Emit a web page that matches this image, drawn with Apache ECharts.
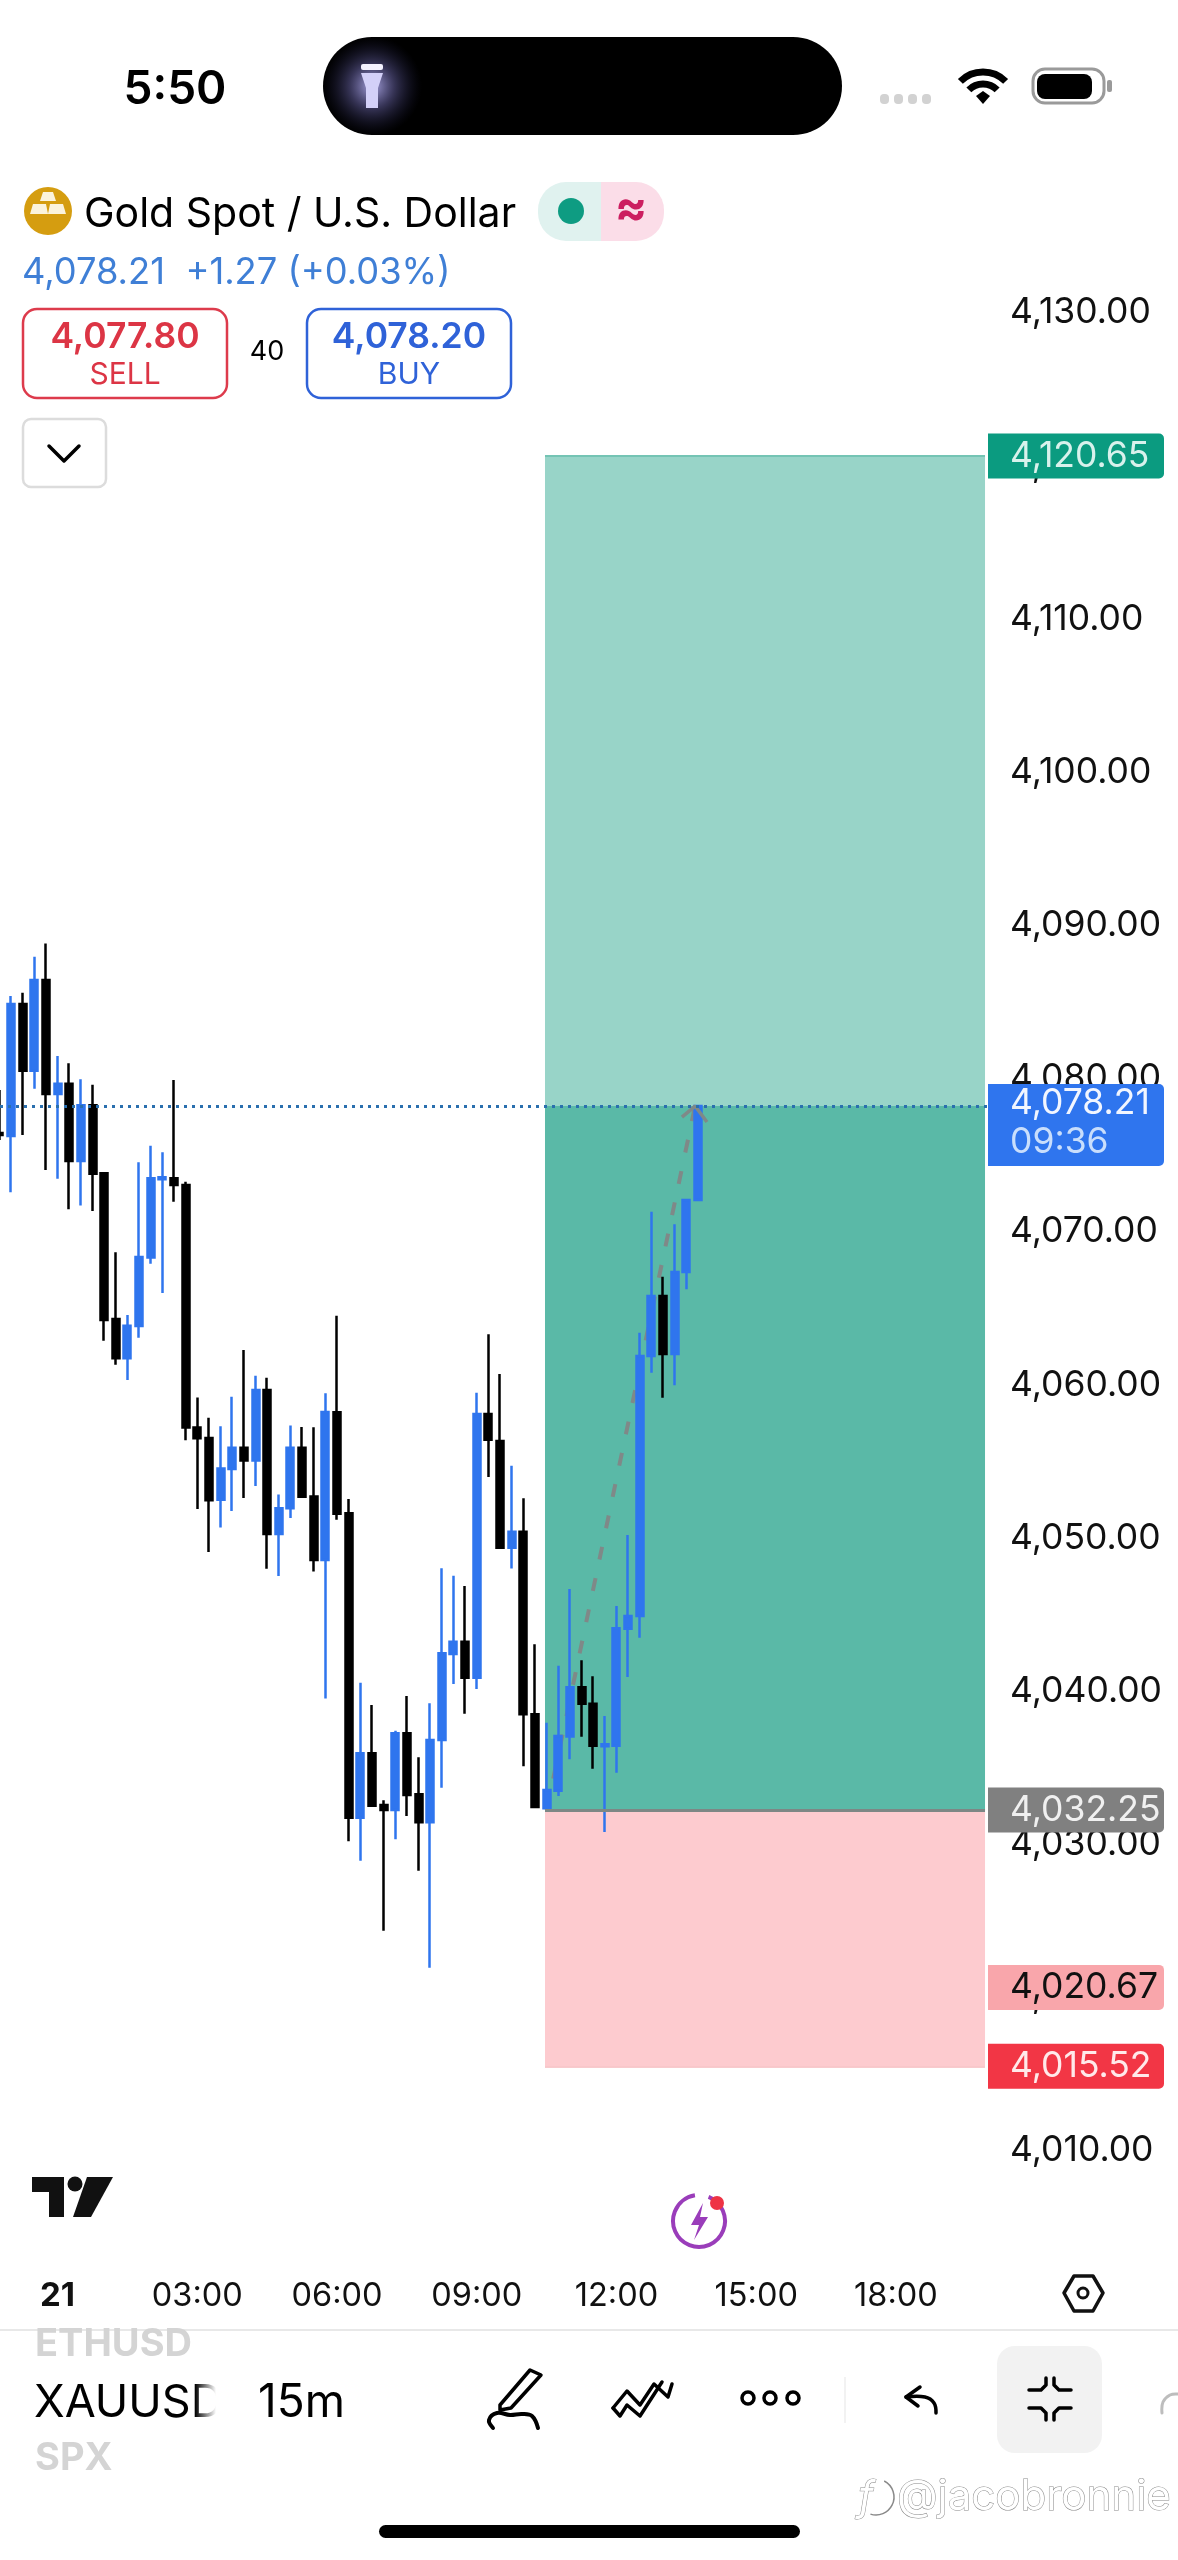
<!DOCTYPE html>
<html>
<head>
<meta charset="utf-8">
<title>XAUUSD 15m</title>
<script src="https://cdn.jsdelivr.net/npm/echarts@6/dist/echarts.min.js"></script>
<style>
html, body { margin: 0; padding: 0; background: #fff; }
#chart { width: 1178px; height: 2560px; }
</style>
</head>
<body>
<div id="chart"></div>
<script>
// candles, oldest first. first one is cut by the left edge
var opens = [4076.45,4076.25,4084.87,4080.52,4086.44,4079.00,4079.67,4074.62,4078.26,4073.82,4064.31,4061.74,4063.85,4068.33,4073.43,4073.49,4073.05,4057.22,4056.54,4052.50,4054.52,4055.90,4055.07,4059.67,4050.27,4051.95,4055.90,4052.72,4048.57,4058.22,4051.62,4031.75,4035.95,4032.57,4032.25,4037.26,4033.28,4031.45,4036.82,4042.44,4043.24,4040.89,4058.10,4056.34,4049.38,4050.42,4038.50,4032.36,4033.51,4037.05,4040.26,4039.19,4036.41,4036.45,4044.09,4044.92,4061.89,4065.81,4062.02,4067.37,4072.08];
var closes = [4076.32,4084.87,4080.52,4086.44,4079.00,4079.67,4074.62,4078.26,4073.79,4064.24,4061.74,4063.87,4068.35,4073.49,4073.56,4073.05,4057.22,4056.52,4052.47,4054.55,4055.90,4055.07,4059.67,4050.27,4051.95,4055.90,4052.70,4048.57,4058.24,4051.59,4031.75,4035.95,4032.53,4032.25,4037.26,4033.23,4031.45,4036.82,4042.48,4043.24,4040.89,4058.10,4056.43,4049.38,4050.42,4038.50,4032.45,4033.56,4037.08,4040.26,4039.19,4036.45,4036.54,4044.11,4044.92,4061.89,4065.81,4062.02,4067.37,4072.08,4078.21];
var lows = [4075.99,4072.58,4076.32,4079.34,4074.03,4073.47,4071.47,4071.71,4071.36,4062.89,4061.32,4060.32,4063.09,4067.92,4066.00,4071.97,4056.39,4051.90,4049.09,4050.70,4051.77,4052.62,4053.40,4048.00,4047.53,4051.32,4052.66,4047.83,4039.53,4051.20,4030.21,4028.94,4032.50,4024.37,4030.34,4031.86,4028.29,4021.95,4033.71,4040.48,4038.54,4040.15,4053.99,4049.38,4048.01,4035.10,4032.45,4032.25,4033.16,4035.56,4037.04,4034.95,4030.81,4034.69,4040.93,4043.50,4060.80,4059.17,4059.98,4066.25,4072.08];
var highs = [4079.26,4085.39,4085.61,4087.96,4088.83,4081.48,4081.00,4079.96,4079.60,4073.82,4068.66,4064.57,4074.54,4075.62,4075.19,4079.91,4073.27,4059.19,4057.86,4057.30,4059.23,4062.28,4060.61,4060.47,4052.85,4057.35,4057.26,4057.24,4059.46,4064.52,4052.56,4040.56,4039.11,4032.88,4037.43,4039.69,4035.69,4039.22,4048.03,4047.55,4046.87,4059.49,4063.31,4060.72,4054.73,4052.60,4043.07,4037.95,4041.67,4046.68,4042.02,4040.98,4038.39,4045.57,4050.20,4063.41,4071.31,4067.07,4070.49,4072.12,4078.21];

var priceTicks = [4010,4020,4030,4040,4050,4060,4070,4080,4090,4100,4110,4120,4130];
var timeSlots = [4,16,28,40,52,64,76];
var timeLabels = ['21','03:00','06:00','09:00','12:00','15:00','18:00'];

// long position tool
var targetPrice = 4120.65;
var lastPrice = 4078.21;
var entryPrice = 4032.25;
var stopPrice = 4015.52;
var toolSlots = [45.86, 83.65];
var pathSlots = [46, 58.75];
var pathPrices = [4032.25, 4078.21];
var arrowSlots = [57.62, 58.75, 59.77];
var arrowPrices = [4077.49, 4078.21, 4077.17];

var tagPrices = [4120.65, 4078.21, 4032.25, 4020.67, 4015.52];
var tagTexts = ['4,120.65', '4,078.21', '4,032.25', '4,020.67', '4,015.52'];
var countdownText = '09:36';

const FONT = 'Inter, "Liberation Sans", sans-serif';
const UP = '#2f75ee';
const DOWN = '#000000';
const tagBg = ['#0b9b80', '#2f75ee', '#808080', '#f9a6ab', '#f23645'];
const tagFg = ['#d8f2ec', '#f2f6ff', '#f0f0f0', '#111111', '#ffe9ea'];

let candleData = opens.map((o, i) => [i - 1, o, closes[i], lows[i], highs[i]]);

function txt(x, y, text, size, fill, weight, align) {
	return { type: 'text', z: 20, style: { x: x, y: y, text: text, fill: fill,
		font: (weight || 400) + ' ' + size + 'px ' + FONT, align: align || 'left', verticalAlign: 'middle' } };
}
function rrect(x, y, w, h, r, fill, stroke, lw) {
	return { type: 'rect', z: 20, shape: { x: x, y: y, width: w, height: h, r: r },
		style: { fill: fill || 'none', stroke: stroke || 'none', lineWidth: lw || 0 } };
}
function pline(points, stroke, lw, smooth) {
	return { type: 'polyline', z: 20, shape: { points: points, smooth: smooth || 0 },
		style: { fill: 'none', stroke: stroke, lineWidth: lw, lineCap: 'round', lineJoin: 'round' } };
}
function poly(points, fill, stroke, lw) {
	return { type: 'polygon', z: 20, shape: { points: points },
		style: { fill: fill || 'none', stroke: stroke || 'none', lineWidth: lw || 0, lineJoin: 'round' } };
}
function circ(x, y, r, fill, stroke, lw) {
	return { type: 'circle', z: 20, shape: { cx: x, cy: y, r: r },
		style: { fill: fill || 'none', stroke: stroke || 'none', lineWidth: lw || 0 } };
}
function arc(x, y, r, a0, a1, stroke, lw) {
	return { type: 'arc', z: 20, shape: { cx: x, cy: y, r: r, startAngle: a0, endAngle: a1 },
		style: { fill: 'none', stroke: stroke, lineWidth: lw, lineCap: 'butt' } };
}

function statusBar() {
	return [
		txt(175, 90, '5:50', 46, '#000', 600, 'center'),
		rrect(323, 37, 519, 98, 49, '#000'),
		{ type: 'circle', z: 20, shape: { cx: 372, cy: 86, r: 50 }, style: {
			fill: new echarts.graphic.RadialGradient(0.5, 0.5, 0.5, [
				{ offset: 0, color: 'rgba(190,185,250,0.9)' },
				{ offset: 0.45, color: 'rgba(120,115,190,0.45)' },
				{ offset: 1, color: 'rgba(40,40,90,0)' }]) } },
		rrect(361, 64, 22, 6, 2, '#f4f2ff'),
		poly([[361, 73], [383, 73], [378, 88], [378, 108], [366, 108], [366, 88]], '#d3d0f8'),
		rrect(880, 94, 9, 10, 4, '#d2d2d2'), rrect(894, 94, 9, 10, 4, '#d2d2d2'),
		rrect(908, 94, 9, 10, 4, '#d2d2d2'), rrect(922, 94, 9, 10, 4, '#d2d2d2'),
		arc(983, 104, 32, -Math.PI * 0.75, -Math.PI * 0.25, '#000', 7),
		arc(983, 104, 20, -Math.PI * 0.75, -Math.PI * 0.25, '#000', 7),
		poly([[976, 96], [983, 91], [990, 96], [983, 104]], '#000'),
		rrect(1033, 69, 71, 34, 12, 'none', '#9a9a9a', 3),
		rrect(1037, 74, 55, 25, 8, '#000'),
		rrect(1107, 80, 5, 12, 2, '#9a9a9a')
	];
}

function header() {
	return [
		circ(48, 211, 24, '#d59d10'),
		poly([[43, 192], [53, 192], [56, 201], [40, 201]], '#fbf3dc'),
		poly([[33, 204], [46, 204], [48, 214], [30, 214]], '#fbf3dc'),
		poly([[50, 204], [63, 204], [66, 214], [48, 214]], '#fbf3dc'),
		txt(84, 215, 'Gold Spot / U.S. Dollar', 41, '#000', 400),
		{ type: 'rect', z: 20, shape: { x: 538, y: 182, width: 63, height: 59, r: [28, 0, 0, 28] }, style: { fill: '#e0f2ef' } },
		{ type: 'rect', z: 20, shape: { x: 601, y: 182, width: 63, height: 59, r: [0, 28, 28, 0] }, style: { fill: '#fbdde8' } },
		circ(571, 211, 13, '#0e9c82'),
		txt(631, 210, '≈', 48, '#cc1e60', 700, 'center'),
		txt(22, 273, '4,078.21  +1.27 (+0.03%)', 36.3, '#3f7fd6', 400),
		rrect(23, 309, 204, 89, 14, '#fff', '#dd3b4c', 2.5),
		txt(125, 337, '4,077.80', 35.5, '#dc3545', 600, 'center'),
		txt(125, 375, 'SELL', 30, '#dc3545', 400, 'center'),
		txt(267, 352, '40', 27, '#000', 400, 'center'),
		rrect(307, 309, 204, 89, 14, '#fff', '#2f62d8', 2.5),
		txt(409, 337, '4,078.20', 35.5, '#2f62d8', 600, 'center'),
		txt(409, 375, 'BUY', 30, '#2f62d8', 400, 'center'),
		rrect(23, 419, 83, 68, 8, '#fff', '#dcdcdc', 2.5),
		pline([[49, 446], [64, 461], [79, 446]], '#000', 3.5)
	];
}

function footer() {
	return [
		// tv logo
		poly([[32, 2177], [64, 2177], [64, 2217], [49, 2217], [49, 2192], [32, 2192]], '#111'),
		circ(75, 2184, 7.5, '#111'),
		poly([[87, 2177], [113, 2177], [91, 2217], [73, 2217]], '#111'),
		// purple badge
		arc(699, 2221, 26, -Math.PI * 0.38, Math.PI * 1.5 - Math.PI * 0.05, '#9a3dba', 4),
		poly([[703, 2203], [691, 2225], [699, 2225], [694, 2240], [708, 2217], [700, 2217]], '#9a3dba'),
		circ(717, 2203, 7, '#ee3344'),
		// settings hexagon
		poly([[1064, 2293], [1074, 2276], [1093, 2276], [1103, 2293], [1093, 2311], [1074, 2311]], 'none', '#111', 3.5),
		circ(1083, 2293, 5, 'none', '#111', 3),
		{ type: 'line', z: 20, shape: { x1: 0, y1: 2330, x2: 1178, y2: 2330 }, style: { stroke: '#e8e8e8', lineWidth: 2 } },
		// symbol wheel
		txt(35, 2345, 'ETHUSD', 38, '#d4d4d4', 700),
		txt(34, 2403, 'XAUUSD', 45, '#000', 400),
		txt(35, 2459, 'SPX', 38, '#d4d4d4', 700),
		{ type: 'rect', z: 21, shape: { x: 195, y: 2331, width: 30, height: 100 }, style: {
			fill: new echarts.graphic.LinearGradient(0, 0, 1, 0, [
				{ offset: 0, color: 'rgba(255,255,255,0)' },
				{ offset: 0.7, color: 'rgba(255,255,255,1)' },
				{ offset: 1, color: 'rgba(255,255,255,1)' }]) } },
		txt(258, 2403, '15m', 46, '#000', 400),
		// pen
		poly([[500, 2405], [530, 2370], [541, 2375], [511, 2408], [500, 2410]], 'none', '#000', 3.5),
		pline([[493, 2428], [489, 2420], [497, 2413], [510, 2415], [522, 2414], [532, 2416], [538, 2428]], '#000', 4, 0.4),
		// trend
		pline([[613, 2408], [627, 2391], [640, 2405], [654, 2384], [668, 2397], [672, 2384]], '#000', 3.5),
		pline([[613, 2408], [620, 2416], [627, 2405], [640, 2416], [662, 2382]], '#000', 3.5),
		// more
		circ(748, 2398, 6, 'none', '#000', 3.5), circ(770, 2398, 6, 'none', '#000', 3.5), circ(793, 2398, 6, 'none', '#000', 3.5),
		{ type: 'line', z: 20, shape: { x1: 845, y1: 2377, x2: 845, y2: 2423 }, style: { stroke: '#eeeeee', lineWidth: 1.5 } },
		// undo
		pline([[920, 2387], [906, 2397], [918, 2406]], '#000', 3.5),
		pline([[906, 2397], [925, 2397], [934, 2403], [936, 2413]], '#000', 3.5, 0.4),
		// collapse button
		rrect(997, 2346, 105, 107, 18, '#f2f2f2'),
		pline([[1029, 2390], [1041, 2390], [1046, 2385], [1046, 2378]], '#000', 3.5),
		pline([[1071, 2390], [1059, 2390], [1054, 2385], [1054, 2378]], '#000', 3.5),
		pline([[1029, 2408], [1041, 2408], [1046, 2413], [1046, 2420]], '#000', 3.5),
		pline([[1071, 2408], [1059, 2408], [1054, 2413], [1054, 2420]], '#000', 3.5),
		pline([[1162, 2413], [1163, 2402], [1170, 2395], [1178, 2394]], '#bdbdbd', 3, 0.4),
		// watermark
		arc(876, 2497, 18, -Math.PI * 0.35, Math.PI * 0.6, '#8a8a8a', 1.5),
		{ type: 'text', z: 20, style: { x: 866, y: 2498, text: 'f', fill: '#fff', stroke: '#8a8a8a', lineWidth: 1,
			font: 'italic 400 40px ' + FONT, align: 'center', verticalAlign: 'middle' } },
		{ type: 'text', z: 20, style: { x: 897, y: 2497, text: '@jacobronnie', fill: '#fff', stroke: '#8a8a8a', lineWidth: 1,
			font: '400 42px ' + FONT, align: 'left', verticalAlign: 'middle' } },
		rrect(379, 2525, 421, 13, 6.5, '#000')
	];
}

function renderTag(params, api) {
	let i = params.dataIndex;
	let pt = api.coord([83.82, api.value(0)]);
	let cy = pt[1];
	let isLast = i === 1;
	let top = isLast ? cy - 22 : cy - 22.5;
	let h = isLast ? 82 : 45;
	let kids = [
		{ type: 'rect', shape: { x: 988, y: top, width: 176, height: h, r: [0, 5, 5, 0] }, style: { fill: tagBg[i] } },
		{ type: 'text', style: { x: 1010, y: top + (isLast ? 19 : 22.5), text: tagTexts[i], fill: tagFg[i],
			font: '400 35.5px ' + FONT, align: 'left', verticalAlign: 'middle' } }
	];
	if (isLast) {
		kids.push({ type: 'text', style: { x: 1010, y: top + 58, text: countdownText, fill: '#c9defc',
			font: '400 35.5px ' + FONT, align: 'left', verticalAlign: 'middle' } });
	}
	return { type: 'group', children: kids };
}

let option = {
	animation: false,
	backgroundColor: '#ffffff',
	tooltip: { show: false },
	legend: { show: false },
	grid: { left: 0, top: 236.2, width: 987, height: 1991.2, containLabel: false },
	xAxis: {
		type: 'value',
		min: -0.9447,
		max: 83.82,
		position: 'bottom',
		axisLine: { show: false },
		axisTick: { show: false },
		splitLine: { show: false },
		axisLabel: {
			customValues: timeSlots,
			margin: 52,
			fontFamily: FONT,
			fontSize: 32.5,
			color: '#111',
			formatter: function (v) {
				let s = timeLabels[timeSlots.indexOf(v)];
				return s === '21' ? '{d|21}' : s;
			},
			rich: { d: { fontFamily: FONT, fontSize: 33, fontWeight: 700, color: '#111' } }
		}
	},
	yAxis: {
		type: 'value',
		min: 4005,
		max: 4135,
		position: 'right',
		axisLine: { show: false },
		axisTick: { show: false },
		splitLine: { show: false },
		axisLabel: {
			customValues: priceTicks,
			margin: 23,
			fontFamily: FONT,
			fontSize: 35.5,
			color: '#111',
			formatter: v => v.toLocaleString('en-US', { minimumFractionDigits: 2 })
		}
	},
	graphic: { elements: statusBar().concat(header(), footer()) },
	series: [
		{
			// zones of the position tool
			type: 'line',
			data: [],
			z: 1,
			markArea: {
				silent: true,
				data: [
					[{ xAxis: toolSlots[0], yAxis: lastPrice, itemStyle: { color: '#98d4c8' } }, { xAxis: toolSlots[1], yAxis: targetPrice }],
					[{ xAxis: toolSlots[0], yAxis: entryPrice, itemStyle: { color: '#5ab9a7' } }, { xAxis: toolSlots[1], yAxis: lastPrice }],
					[{ xAxis: toolSlots[0], yAxis: stopPrice, itemStyle: { color: '#fdcbcf' } }, { xAxis: toolSlots[1], yAxis: entryPrice }]
				]
			},
			markLine: {
				silent: true,
				symbol: 'none',
				label: { show: false },
				data: [
					[{ xAxis: toolSlots[0], yAxis: targetPrice, lineStyle: { color: '#74c4b4', width: 2, type: 'solid' } }, { xAxis: toolSlots[1], yAxis: targetPrice }],
					[{ xAxis: toolSlots[0], yAxis: entryPrice, lineStyle: { color: '#7d8785', width: 3, type: 'solid' } }, { xAxis: toolSlots[1], yAxis: entryPrice }],
					[{ xAxis: toolSlots[0], yAxis: stopPrice, lineStyle: { color: '#f6b9bd', width: 1.5, type: 'solid' } }, { xAxis: toolSlots[1], yAxis: stopPrice }],
					[{ xAxis: -0.9447, yAxis: lastPrice, lineStyle: { color: '#2a6fae', width: 3, type: [3, 5] } }, { xAxis: 83.82, yAxis: lastPrice }]
				]
			}
		},
		{
			name: 'path',
			type: 'line',
			z: 2,
			symbol: 'none',
			data: pathSlots.map((s, i) => [s, pathPrices[i]]),
			lineStyle: { color: '#7f8988', width: 4, type: [13, 19] }
		},
		{
			name: 'arrow',
			type: 'line',
			z: 4,
			symbol: 'none',
			data: arrowSlots.map((s, i) => [s, arrowPrices[i]]),
			lineStyle: { color: '#7f8988', width: 3.5 }
		},
		{
			name: 'XAUUSD',
			type: 'candlestick',
			z: 3,
			barWidth: 7.5,
			clip: true,
			data: candleData,
			encode: { x: 0, y: [1, 2, 3, 4] },
			itemStyle: { color: UP, color0: DOWN, borderColor: UP, borderColor0: DOWN, borderWidth: 2.5 }
		},
		{
			name: 'tags',
			type: 'custom',
			z: 10,
			clip: false,
			data: tagPrices.map(p => [p]),
			encode: { y: 0 },
			renderItem: renderTag
		}
	]
};

let chart = echarts.init(document.getElementById('chart'));
chart.setOption(option);
</script>
</body>
</html>
